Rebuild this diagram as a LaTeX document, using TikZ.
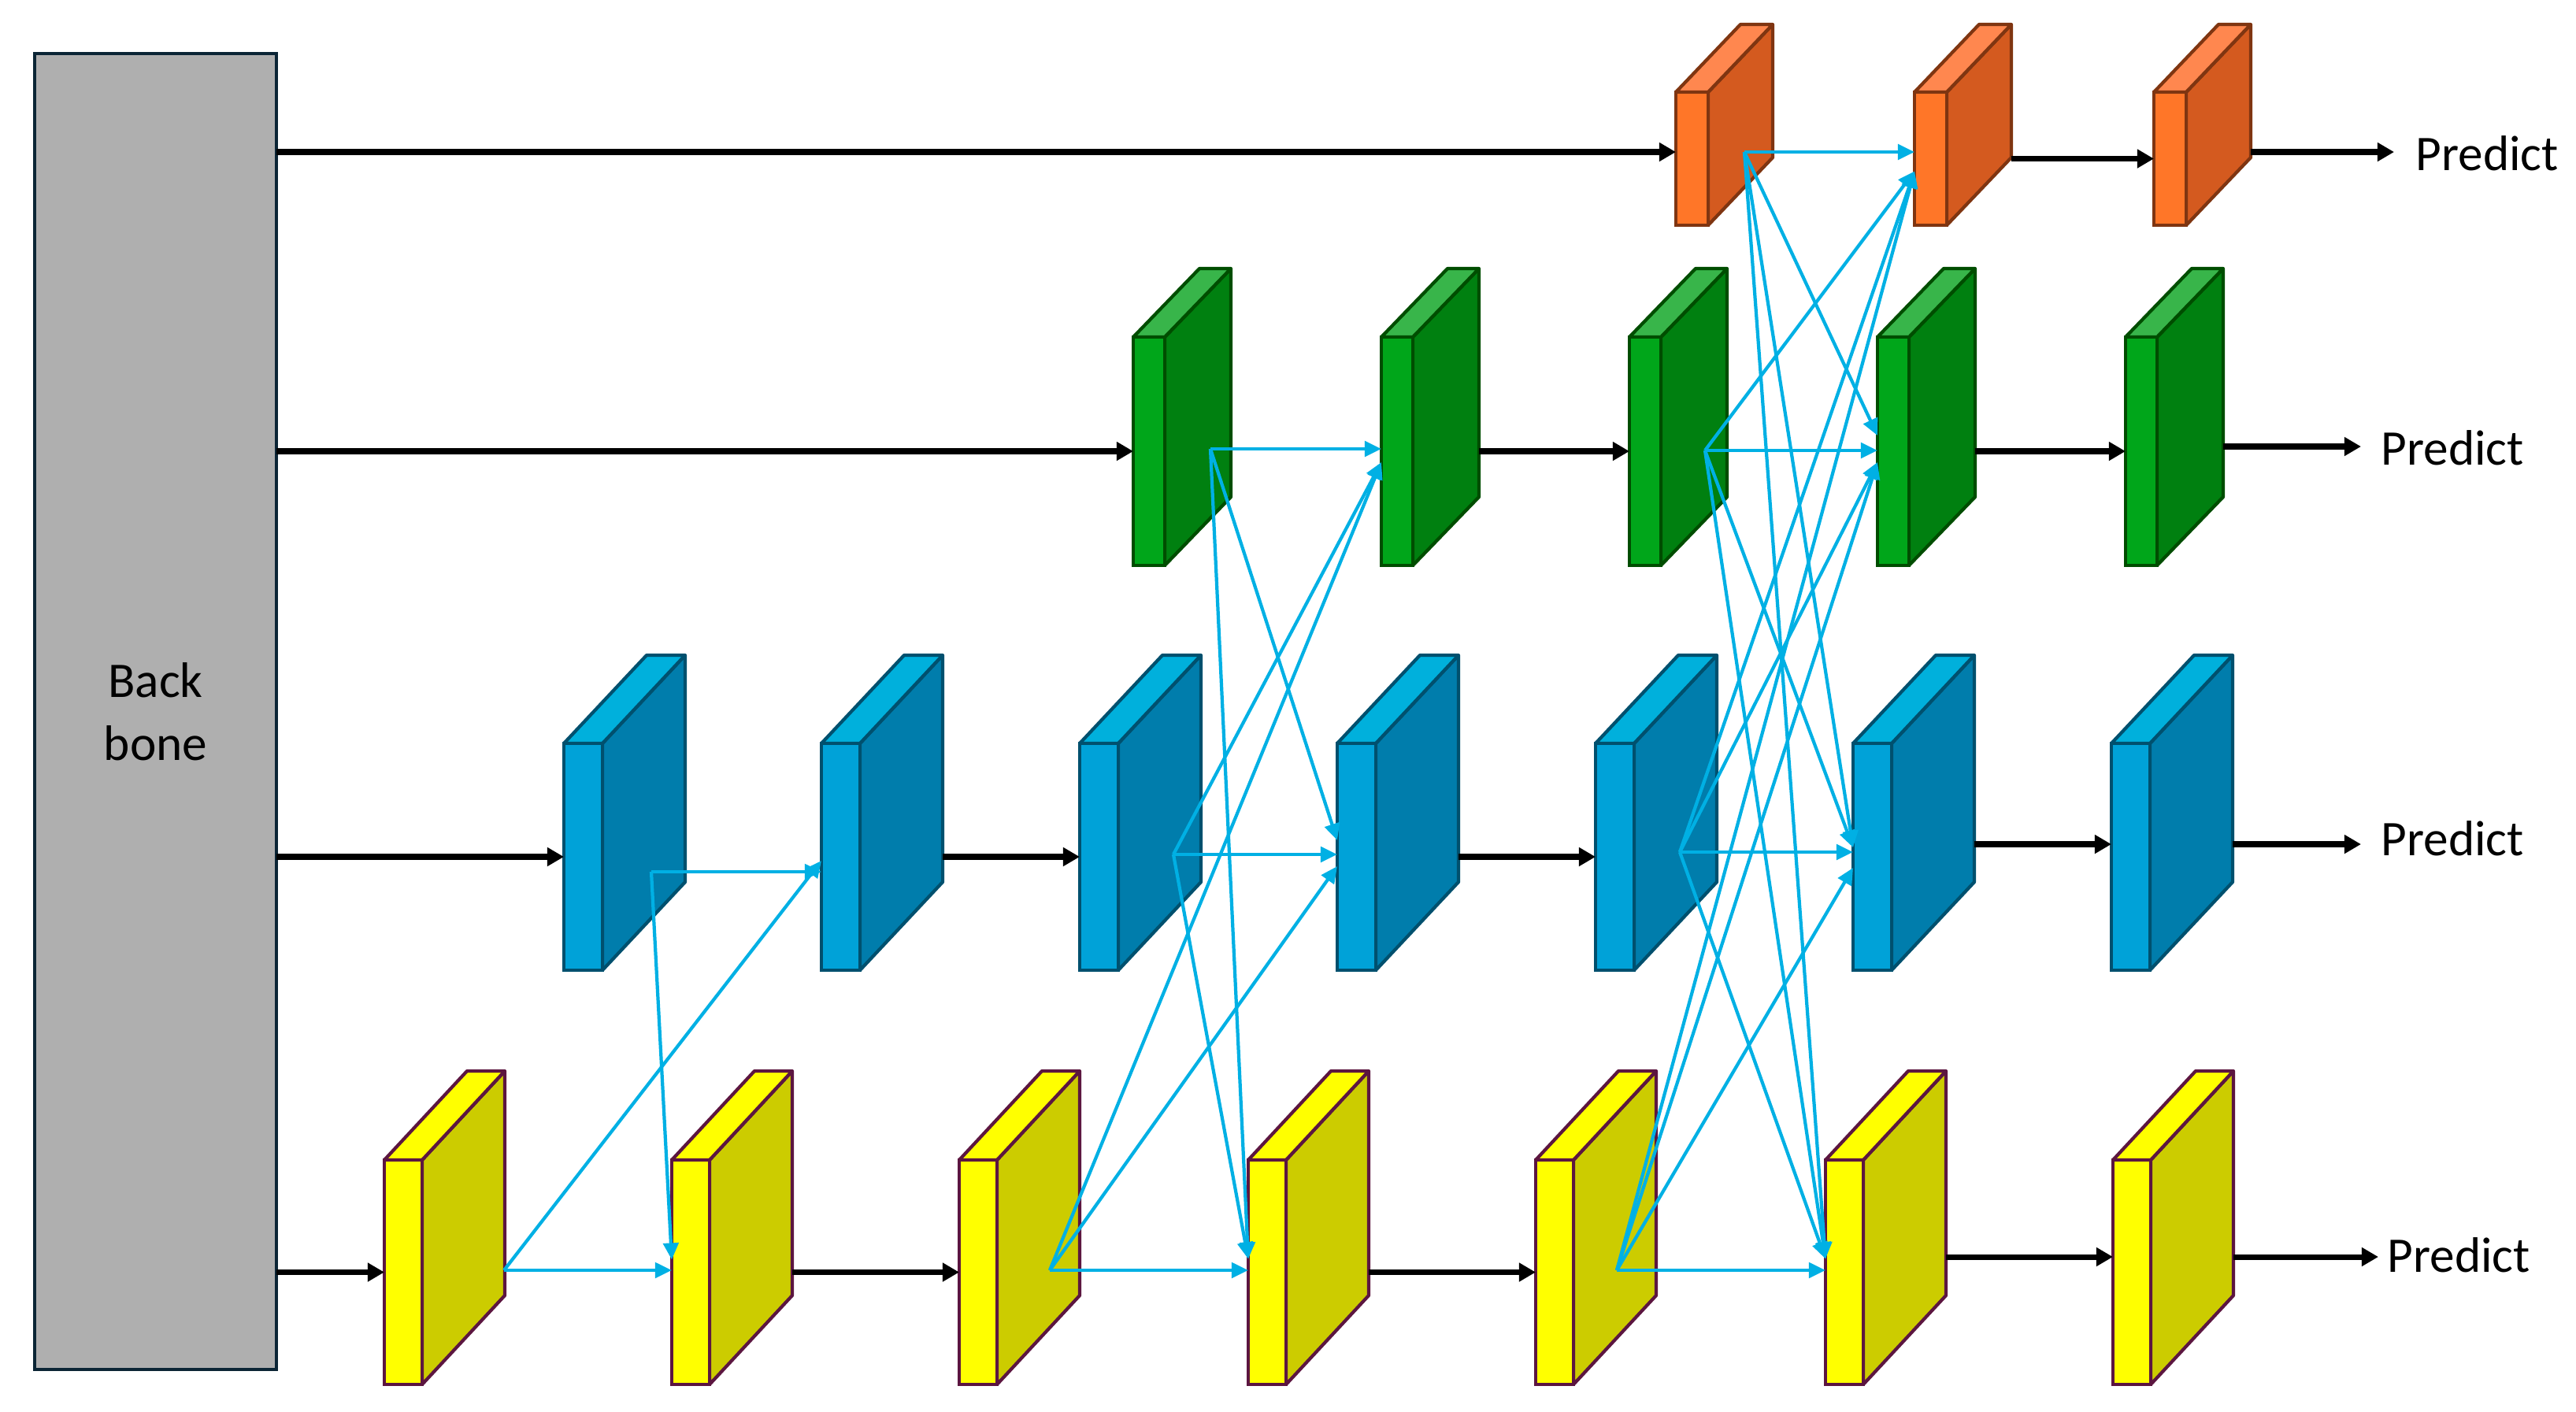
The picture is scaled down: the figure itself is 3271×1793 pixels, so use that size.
\documentclass[tikz,border=0pt]{standalone}
\usepackage{fontspec}
\setmainfont{Carlito}
\usetikzlibrary{arrows.meta,calc}
\definecolor{Orfront}{RGB}{255,118,40}
\definecolor{Orside}{RGB}{212,90,31}
\definecolor{Ortop}{RGB}{255,135,79}
\definecolor{Oredge}{RGB}{127,53,17}
\definecolor{Grfront}{RGB}{0,166,26}
\definecolor{Grside}{RGB}{0,128,16}
\definecolor{Grtop}{RGB}{56,181,74}
\definecolor{Gredge}{RGB}{0,77,0}
\definecolor{Blfront}{RGB}{0,162,216}
\definecolor{Blside}{RGB}{0,125,172}
\definecolor{Bltop}{RGB}{0,176,220}
\definecolor{Bledge}{RGB}{0,80,110}
\definecolor{Yefront}{RGB}{255,255,0}
\definecolor{Yeside}{RGB}{204,204,0}
\definecolor{Yetop}{RGB}{255,255,0}
\definecolor{Yeedge}{RGB}{92,22,64}
\definecolor{bbfill}{RGB}{175,175,175}
\definecolor{bbedge}{RGB}{11,37,53}
\definecolor{cyanl}{RGB}{0,176,228}
% name, x, y, w, h, dx, dy, colour prefix
\newcommand\fmblock[8]{%
  \filldraw[line width=1.2pt, line join=round, draw=#8edge, fill=#8side]
    (#2+#4,#3) -- ++(#6,-#7) -- ++(0,#5) -- ++(-#6,#7) -- cycle;
  \filldraw[line width=1.2pt, line join=round, draw=#8edge, fill=#8top]
    (#2,#3) -- ++(#6,-#7) -- ++(#4,0) -- ++(-#6,#7) -- cycle;
  \node[line width=1.2pt, draw=#8edge, fill=#8front, inner sep=0pt, outer sep=0pt,
    minimum width=#4*0.01cm, minimum height=#5*0.01cm, anchor=north west] (#1) at (#2,#3) {};
  \coordinate (#1r) at (#2+#4+#6,#3+#5/2);
}
\begin{document}
\begin{tikzpicture}[x=0.01cm, y=-0.01cm,
  bline/.style={draw=black, line width=2pt, -{Triangle[length=6pt,width=6.5pt]}},
  cline/.style={draw=cyanl, line width=1.2pt, -{Triangle[length=6pt,width=5.5pt]}},
  lbl/.style={font=\fontsize{18}{22}\selectfont, inner sep=0pt, anchor=west}]
\useasboundingbox (0,0) rectangle (3271,1793);

% backbone
\node[draw=bbedge, line width=1pt, fill=bbfill, minimum width=3.07cm, minimum height=16.70cm,
  anchor=north west, inner sep=0pt, outer sep=0pt, align=center,
  font=\fontsize{18}{22.8}\selectfont] (BB) at (44,68) {Back\\bone};

% orange row
\fmblock{O1}{2128}{117}{41}{169}{82}{86}{Or}
\fmblock{O2}{2431}{117}{41}{169}{82}{86}{Or}
\fmblock{O3}{2735}{117}{41}{169}{82}{86}{Or}
% green row
\fmblock{G1}{1439}{428}{40}{290}{84}{87}{Gr}
\fmblock{G2}{1754}{428}{40}{290}{84}{87}{Gr}
\fmblock{G3}{2069}{428}{40}{290}{84}{87}{Gr}
\fmblock{G4}{2384}{428}{40}{290}{84}{87}{Gr}
\fmblock{G5}{2699}{428}{40}{290}{84}{87}{Gr}
% blue row
\fmblock{B1}{716}{944}{49}{288}{105}{112}{Bl}
\fmblock{B2}{1043}{944}{49}{288}{105}{112}{Bl}
\fmblock{B3}{1371}{944}{49}{288}{105}{112}{Bl}
\fmblock{B4}{1698}{944}{49}{288}{105}{112}{Bl}
\fmblock{B5}{2026}{944}{49}{288}{105}{112}{Bl}
\fmblock{B6}{2353}{944}{49}{288}{105}{112}{Bl}
\fmblock{B7}{2681}{944}{49}{288}{105}{112}{Bl}
% yellow row
\fmblock{Y1}{488}{1473}{48}{285}{105}{113}{Ye}
\fmblock{Y2}{853}{1473}{48}{285}{105}{113}{Ye}
\fmblock{Y3}{1218}{1473}{48}{285}{105}{113}{Ye}
\fmblock{Y4}{1585}{1473}{48}{285}{105}{113}{Ye}
\fmblock{Y5}{1950}{1473}{48}{285}{105}{113}{Ye}
\fmblock{Y6}{2318}{1473}{48}{285}{105}{113}{Ye}
\fmblock{Y7}{2683}{1473}{48}{285}{105}{113}{Ye}

% Predict labels and arrow ends
\node[lbl] (TO) at (3067,195) {Predict};
\node[lbl] (TG) at (3023,569) {Predict};
\node[lbl] (TB) at (3023,1065) {Predict};
\node[lbl] (TY) at (3031,1594) {Predict};
\coordinate (PO) at (3040,193);
\coordinate (PG) at (2998,567);
\coordinate (PB) at (2998,1072);
\coordinate (PY) at (3020,1596);

% cyan sources
\coordinate (Y1s) at (640,1613);
\coordinate (B1s) at (827,1107);
\coordinate (Y3s) at (1333,1613);
\coordinate (B3s) at (1490,1085);
\coordinate (G1s) at (1537,570);
\coordinate (Y5s) at (2053,1613);
\coordinate (B5s) at (2133,1082);
\coordinate (G3s) at (2165,572);
\coordinate (O1s) at (2215,193);
% cyan targets
\coordinate (Y2a) at ($(Y2.west)+(0,-16)$);
\coordinate (B2b) at ($(B2.west)+(0,5)$);
\coordinate (Y4a) at ($(Y4.west)+(0,-17)$);
\coordinate (B4b) at ($(B4.west)+(0,12)$);
\coordinate (B4a) at ($(B4.west)+(0,-21)$);
\coordinate (G2b) at ($(G2.west)+(0,14)$);
\coordinate (Y6a) at ($(Y6.west)+(0,-17)$);
\coordinate (B6a) at ($(B6.west)+(0,-12)$);
\coordinate (B6b) at ($(B6.west)+(0,14)$);
\coordinate (G4a) at ($(G4.west)+(0,-20)$);
\coordinate (G4b) at ($(G4.west)+(0,14)$);
\coordinate (O2b) at ($(O2.west)+(0,16)$);

% cyan connections: group 1
\draw[cline] (Y1s) -- (Y1s -| Y2.west);
\draw[cline] (Y1s) -- (B2b);
\draw[cline] (B1s) -- (B1s -| B2.west);
\draw[cline] (B1s) -- (Y2a);
% group 2
\draw[cline] (Y3s) -- (Y3s -| Y4.west);
\draw[cline] (Y3s) -- (B4b);
\draw[cline] (Y3s) -- (G2b);
\draw[cline] (B3s) -- (B3s -| B4.west);
\draw[cline] (B3s) -- (G2b);
\draw[cline] (B3s) -- (Y4a);
\draw[cline] (G1s) -- (G1s -| G2.west);
\draw[cline] (G1s) -- (B4a);
\draw[cline] (G1s) -- (Y4a);
% group 3
\draw[cline] (Y5s) -- (Y5s -| Y6.west);
\draw[cline] (Y5s) -- (B6b);
\draw[cline] (Y5s) -- (G4b);
\draw[cline] (Y5s) -- (O2b);
\draw[cline] (B5s) -- (B5s -| B6.west);
\draw[cline] (B5s) -- (G4b);
\draw[cline] (B5s) -- (O2b);
\draw[cline] (B5s) -- (Y6a);
\draw[cline] (G3s) -- (G3s -| G4.west);
\draw[cline] (G3s) -- (O2b);
\draw[cline] (G3s) -- (B6a);
\draw[cline] (G3s) -- (Y6a);
\draw[cline] (O1s) -- (O1s -| O2.west);
\draw[cline] (O1s) -- (G4a);
\draw[cline] (O1s) -- (B6a);
\draw[cline] (O1s) -- (Y6a);

% black arrows
\draw[bline] (BB.east |- PO) -- (O1.west |- PO);
\draw[bline] (O2r) -- (O3.west);
\draw[bline] (O3r |- PO) -- (PO);
\draw[bline] (BB.east |- G1.west) -- (G1.west);
\draw[bline] (G2r) -- (G3.west);
\draw[bline] (G4r) -- (G5.west);
\draw[bline] (G5r |- PG) -- (PG);
\draw[bline] (BB.east |- B1.west) -- (B1.west);
\draw[bline] (B2r) -- (B3.west);
\draw[bline] (B4r) -- (B5.west);
\draw[bline] (B6r |- PB) -- (B7.west |- PB);
\draw[bline] (B7r |- PB) -- (PB);
\draw[bline] (BB.east |- Y1.west) -- (Y1.west);
\draw[bline] (Y2r) -- (Y3.west);
\draw[bline] (Y4r) -- (Y5.west);
\draw[bline] (Y6r |- PY) -- (Y7.west |- PY);
\draw[bline] (Y7r |- PY) -- (PY);
\end{tikzpicture}
\end{document}
